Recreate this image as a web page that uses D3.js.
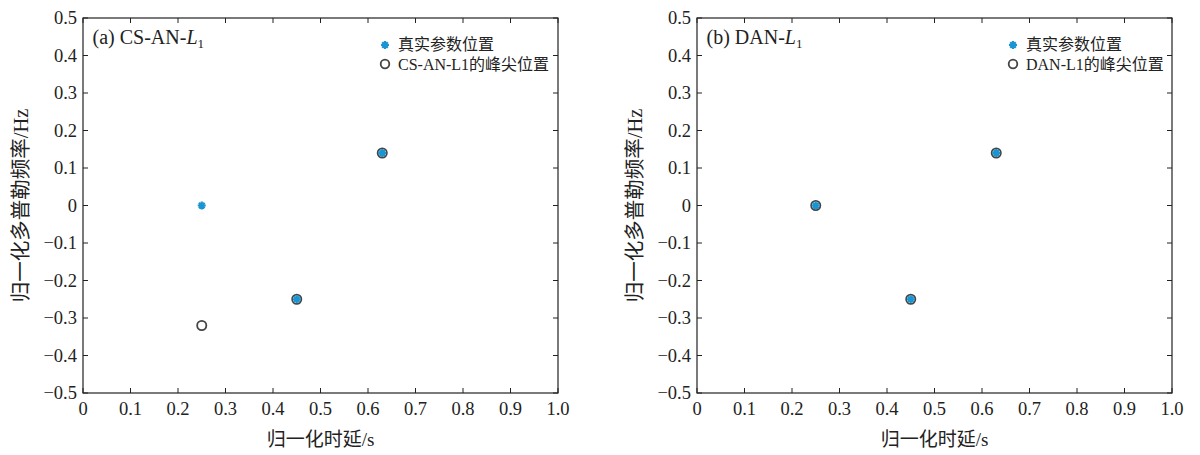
<!DOCTYPE html>
<html>
<head>
<meta charset="utf-8">
<script src="https://cdn.jsdelivr.net/npm/d3@7"></script>
<style>
body{margin:0;background:#fff}
</style>
</head>
<body>
<svg id="chart" width="1200" height="455"></svg>
<script>
// data
var xTicks = [0,0.1,0.2,0.3,0.4,0.5,0.6,0.7,0.8,0.9,1.0]
var yTicks = [0.5,0.4,0.3,0.2,0.1,0,-0.1,-0.2,-0.3,-0.4,-0.5]
var truePos = [[0.25,0],[0.45,-0.25],[0.63,0.14]]
var peaksA = [[0.25,-0.32],[0.45,-0.25],[0.63,0.14]]
var peaksB = [[0.25,0],[0.45,-0.25],[0.63,0.14]]
var panelTags = ['(a) CS-AN-','(b) DAN-']
var legendPeak = ['CS-AN-L1的峰尖位置','DAN-L1的峰尖位置']

var svg = d3.select('#chart')
var blue = '#1b95d2'
var serif = '"Liberation Serif","Times New Roman",serif'
var cjk = '"Liberation Serif","Noto Sans CJK SC",serif'

function fmt(v){
	if (v===0) return '0'
	if (v===1) return '1.0'
	var s = Math.abs(v).toFixed(1)
	return (v<0?'\u2212':'') + s
}

function drawStar(g,x,y,r){
	var p = ''
	for (var k=0;k<4;k++){
		var a = k*Math.PI/4
		p += 'M'+(x-r*Math.cos(a))+' '+(y-r*Math.sin(a))+' L'+(x+r*Math.cos(a))+' '+(y+r*Math.sin(a))+' '
	}
	g.append('path').attr('d',p).style('stroke',blue).style('stroke-width',2.2).style('fill','none')
	g.append('circle').attr('cx',x).attr('cy',y).attr('r',2.2).style('fill',blue)
}

function txt(g,x,y,s,size,font){
	return g.append('text').attr('x',x).attr('y',y)
		.style('font-family',font||serif).style('font-size',size+'px').style('fill','#222').text(s)
}

function panel(x0,tag,peaks,legTxt,legX){
	var w = 475, top = 18, bot = 393
	var xs = d3.scaleLinear().domain([0,1]).range([x0,x0+w])
	var ys = d3.scaleLinear().domain([-0.5,0.5]).range([bot,top])
	var g = svg.append('g')

	g.append('rect').attr('x',x0).attr('y',top).attr('width',w).attr('height',bot-top)
		.style('fill','none').style('stroke','#222').style('stroke-width',1.2)

	var tl = 5
	xTicks.forEach(function(t){
		var x = xs(t)
		g.append('path').attr('d','M'+x+' '+bot+' L'+x+' '+(bot-tl)+' M'+x+' '+top+' L'+x+' '+(top+tl))
			.style('stroke','#222')
		txt(g,x,bot+22,fmt(t),18.5).attr('text-anchor','middle')
	})
	yTicks.forEach(function(t){
		var y = ys(t)
		g.append('path').attr('d','M'+x0+' '+y+' L'+(x0+tl)+' '+y+' M'+(x0+w)+' '+y+' L'+(x0+w-tl)+' '+y)
			.style('stroke','#222')
		txt(g,x0-6,y+6,fmt(t),18.5).attr('text-anchor','end')
	})

	// titles
	txt(g,xs(0.5),446,'归一化时延/s',19,cjk).attr('text-anchor','middle')
	txt(g,0,0,'归一化多普勒频率/Hz',20.5,cjk).attr('x',null).attr('y',null)
		.attr('transform','translate('+(x0-55)+','+ys(0)+') rotate(-90)')
		.attr('text-anchor','middle')

	// panel tag
	var tt = g.append('text').attr('x',xs(0.02)).attr('y',ys(0.45)+7)
		.style('font-family',serif).style('font-size','20px').style('fill','#222')
	tt.append('tspan').text(tag)
	tt.append('tspan').style('font-style','italic').text('L')
	tt.append('tspan').attr('dy',4).style('font-size','13px').text('1')

	// peaks (circles) then true positions (stars)
	peaks.forEach(function(d){
		g.append('circle').attr('cx',xs(d[0])).attr('cy',ys(d[1])).attr('r',4.6)
			.style('fill','#fff').style('stroke','#444').style('stroke-width',1.8)
	})
	truePos.forEach(function(d){ drawStar(g,xs(d[0]),ys(d[1]),4) })

	// legend
	drawStar(g,legX,45,4)
	txt(g,legX+13,50,'真实参数位置',16,cjk)
	g.append('circle').attr('cx',legX).attr('cy',64).attr('r',4.3)
		.style('fill','#fff').style('stroke','#444').style('stroke-width',1.8)
	txt(g,legX+13,70,legTxt,16,cjk)
}

panel(83,panelTags[0],peaksA,legendPeak[0],385)
panel(697,panelTags[1],peaksB,legendPeak[1],1013)
</script>
</body>
</html>
